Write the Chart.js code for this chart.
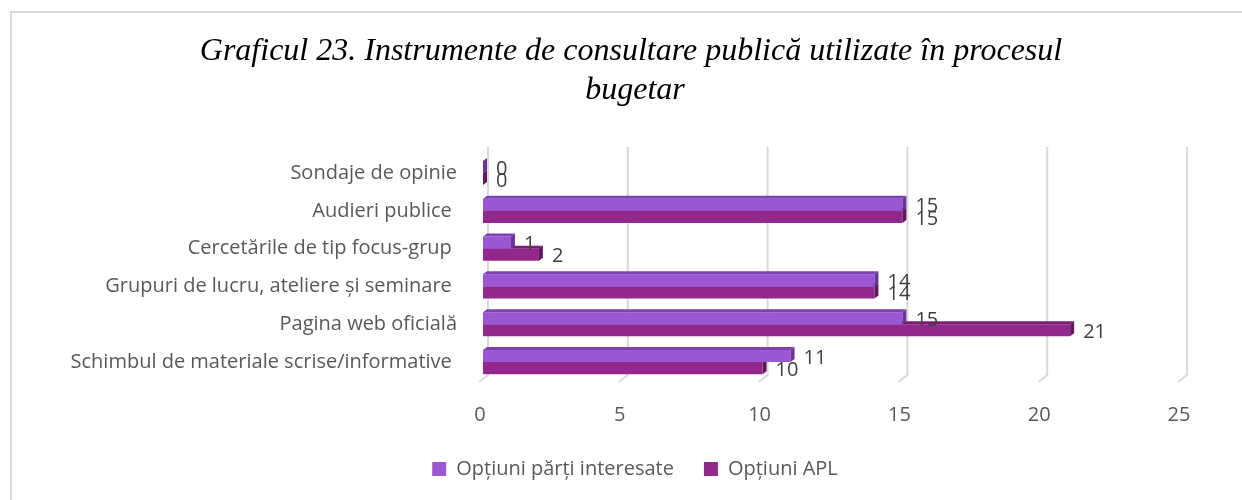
<!DOCTYPE html>
<html><head><meta charset="utf-8">
<script src="https://cdn.jsdelivr.net/npm/chart.js@4/dist/chart.umd.min.js"></script>
<style>html,body{margin:0;padding:0;background:#fff}#wrap{width:1242px;height:500px;position:relative}</style>
</head><body><div id="wrap"><canvas id="c" width="1242" height="500"></canvas></div>
<script>
const categories = ["Sondaje de opinie", "Audieri publice ", "Cercetările de tip focus-grup ", "Grupuri de lucru, ateliere și seminare ", "Pagina web oficială", "Schimbul de materiale scrise/informative "];
const seriesNames = ["Opțiuni părți interesate", "Opțiuni APL"];
const valuesParti = [0, 15, 1, 14, 15, 11];
const valuesAPL = [0, 15, 2, 14, 21, 10];
const xTicks = [0, 5, 10, 15, 20, 25];
const titleLines = ["Graficul 23. Instrumente de consultare publică utilizate în procesul ", "bugetar"];

const FONT = "'Open Sans'";
const FS = 20;
const faceColors = [
  {front: "#9B57D3", top: "#7E41B3", side: "#6A3499"},
  {front: "#92278C", top: "#7A1E74", side: "#63175E"}
];
const D = {dx: 4, dy: 3};

const framePlugin = {
  id: "frame",
  beforeDraw(chart) {
    const ctx = chart.ctx;
    ctx.save();
    ctx.fillStyle = "#fff";
    ctx.fillRect(0, 0, chart.width, chart.height);
    ctx.strokeStyle = "#d9d9d9";
    ctx.lineWidth = 2;
    ctx.beginPath();
    ctx.moveTo(11, chart.height);
    ctx.lineTo(11, 12);
    ctx.lineTo(chart.width, 12);
    ctx.stroke();
    ctx.restore();
  }
};

const gridPlugin = {
  id: "grid3d",
  beforeDatasetsDraw(chart) {
    const ctx = chart.ctx, xs = chart.scales.x, ca = chart.chartArea;
    ctx.save();
    ctx.strokeStyle = "#d9d9d9";
    ctx.lineWidth = 2;
    xTicks.forEach(v => {
      const px = xs.getPixelForValue(v);
      ctx.beginPath();
      ctx.moveTo(px + 5, ca.top - 7);
      ctx.lineTo(px + 5, ca.bottom - 6);
      ctx.lineTo(px - 4, ca.bottom + 1);
      ctx.stroke();
    });
    ctx.restore();
  }
};

const bar3dPlugin = {
  id: "bar3d",
  afterDatasetDraw(chart, args) {
    const ctx = chart.ctx;
    const meta = args.meta;
    const c = faceColors[args.index];
    ctx.save();
    meta.data.forEach(el => {
      const p = el.getProps(["x", "y", "base", "height"], true);
      const left = Math.min(p.x, p.base), right = Math.max(p.x, p.base);
      const top = p.y - p.height / 2, bottom = p.y + p.height / 2;
      ctx.fillStyle = c.top;
      ctx.beginPath();
      ctx.moveTo(left, top);
      ctx.lineTo(left + D.dx, top - D.dy);
      ctx.lineTo(right + D.dx, top - D.dy);
      ctx.lineTo(right, top);
      ctx.closePath();
      ctx.fill();
      ctx.fillStyle = c.side;
      ctx.beginPath();
      ctx.moveTo(right, top);
      ctx.lineTo(right + D.dx, top - D.dy);
      ctx.lineTo(right + D.dx, bottom - D.dy);
      ctx.lineTo(right, bottom);
      ctx.closePath();
      ctx.fill();
    });
    ctx.restore();
  }
};

const labelPlugin = {
  id: "valueLabels",
  afterDatasetsDraw(chart) {
    const ctx = chart.ctx;
    ctx.save();
    ctx.font = FS + "px " + FONT;
    ctx.fillStyle = "#404040";
    ctx.textAlign = "left";
    ctx.textBaseline = "middle";
    chart.data.datasets.forEach((ds, i) => {
      const meta = chart.getDatasetMeta(i);
      meta.data.forEach((el, j) => {
        const p = el.getProps(["x", "y"], true);
        ctx.fillText(String(ds.data[j]), p.x + 13, p.y + 2);
      });
    });
    ctx.restore();
  }
};

new Chart(document.getElementById("c"), {
  type: "bar",
  data: {
    labels: categories,
    datasets: [
      {label: seriesNames[0], data: valuesParti, backgroundColor: faceColors[0].front, xAxisID: "x", yAxisID: "y"},
      {label: seriesNames[1], data: valuesAPL, backgroundColor: faceColors[1].front, xAxisID: "x", yAxisID: "y"}
    ]
  },
  options: {
    indexAxis: "y",
    responsive: false,
    animation: false,
    devicePixelRatio: 1,
    categoryPercentage: 0.64,
    barPercentage: 1.0,
    layout: {padding: {left: 28, right: 0, top: 0, bottom: 11}},
    plugins: {
      title: {
        display: true,
        text: titleLines,
        color: "#000",
        font: {family: "Liberation Serif", style: "italic", size: 32, lineHeight: 1.22, weight: "normal"},
        padding: {top: 32, bottom: 44}
      },
      legend: {
        position: "bottom",
        labels: {boxWidth: 14, boxHeight: 14, padding: 30, color: "#595959", font: {family: FONT, size: FS}}
      },
      tooltip: {enabled: false}
    },
    scales: {
      y: {
        type: "category",
        position: "left",
        grid: {display: false, drawTicks: false},
        border: {display: false},
        ticks: {padding: 26, color: "#595959", font: {family: FONT, size: FS}},
        afterFit(s) { s.width = 455; }
      },
      y2: {
        type: "linear",
        position: "right",
        display: true,
        grid: {display: false, drawTicks: false},
        border: {display: false},
        ticks: {display: false},
        afterFit(s) { s.width = 60; }
      },
      x: {
        type: "linear",
        position: "bottom",
        min: 0,
        max: 25,
        grid: {display: false, drawTicks: false},
        border: {display: false},
        ticks: {stepSize: 5, padding: 22, labelOffset: -3, color: "#595959", font: {family: FONT, size: FS}},
        afterFit(s) { s.height = 48; }
      }
    }
  },
  plugins: [framePlugin, gridPlugin, bar3dPlugin, labelPlugin]
});
</script>
</body></html>
